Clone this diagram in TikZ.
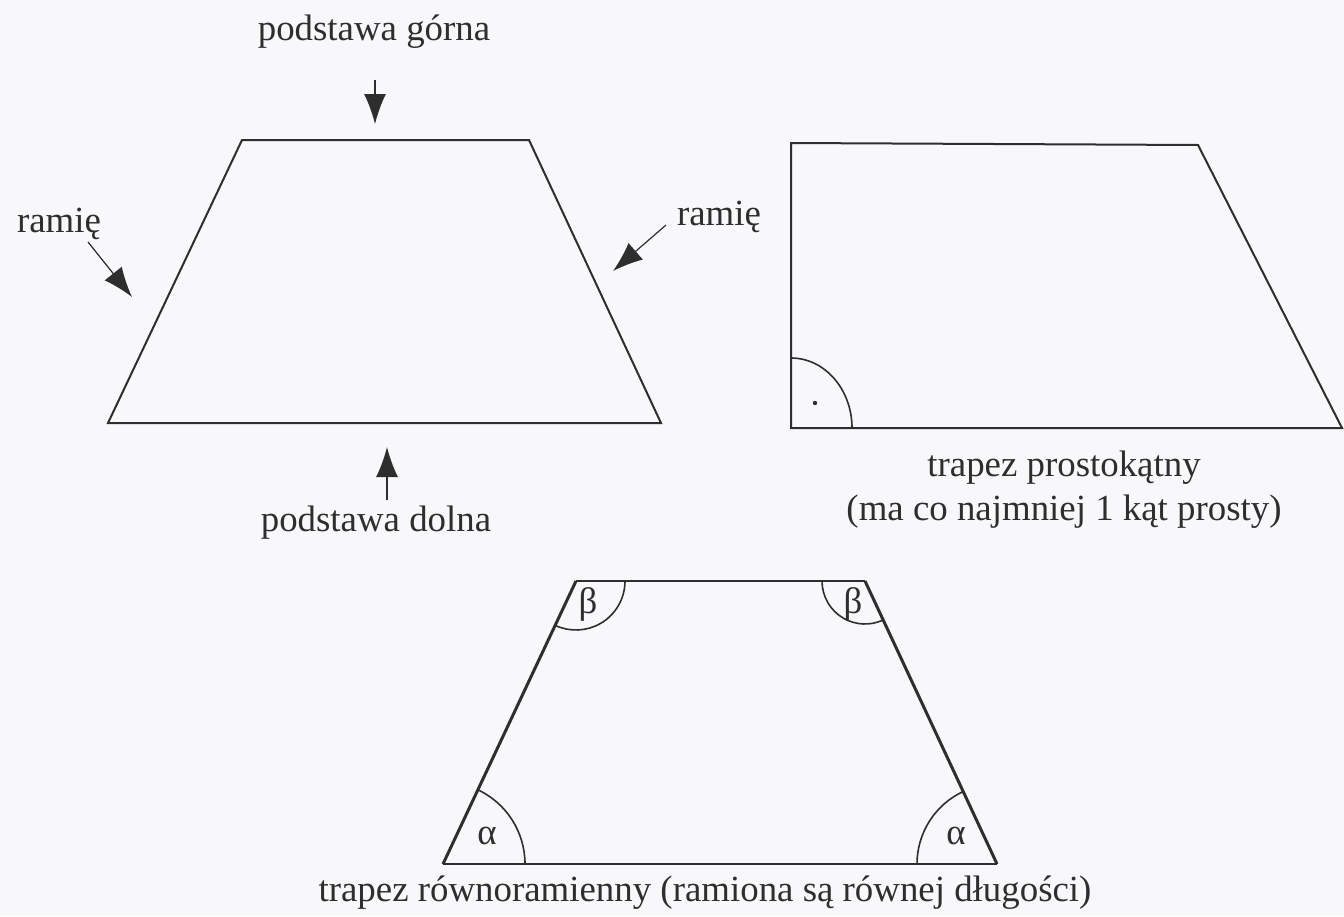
\documentclass[tikz,border=0pt]{standalone}
\usepackage{fontspec}
\setmainfont{Liberation Serif}
\usetikzlibrary{arrows.meta}
\definecolor{ink}{HTML}{2E2E2E}
\definecolor{bg}{HTML}{F8F8FA}
\begin{document}
\begin{tikzpicture}[x=1bp,y=-1bp,
  edge/.style={draw=ink,line width=2bp,line join=miter},
  thick edge/.style={draw=ink,line width=3bp},
  pointer/.style={draw=ink,line width=1.2bp,-{Latex[length=30bp,width=22bp]}},
  lab/.style={text=ink,font=\fontsize{37}{44}\selectfont,inner sep=0pt},
  arc line/.style={draw=ink,line width=1.6bp}]
\fill[bg] (0,0) rectangle (1344,916);
\useasboundingbox (0,0) rectangle (1344,916);
% trapezoid 1
\coordinate (a1) at (242,140);
\coordinate (b1) at (529,140);
\coordinate (c1) at (661,423);
\coordinate (d1) at (108,423);
\draw[edge] (a1) -- (b1) -- (c1) -- (d1) -- cycle;
\node[lab] (pg) at (374,32) {podstawa górna};
\coordinate (pgt) at (375,124);
\coordinate (pgs) at (375,80);
\draw[pointer] (pgs) -- (pgt);
\node[lab] (pd) at (376,523) {podstawa dolna};
\coordinate (pds) at (387,500);
\coordinate (pdt) at (387,447);
\draw[pointer] (pds) -- (pdt);
\node[lab] (rl) at (59,224) {ramię};
\coordinate (rls) at (88,242);
\coordinate (rlt) at (132,297);
\draw[pointer] (rls) -- (rlt);
\node[lab] (rr) at (719,217) {ramię};
\coordinate (rrs) at (666,225);
\coordinate (rrt) at (613,271);
\draw[pointer] (rrs) -- (rrt);
% trapezoid 2
\coordinate (a2) at (791,143);
\coordinate (b2) at (1198,145);
\coordinate (c2) at (1342,428);
\coordinate (d2) at (791,428);
\draw[edge] (a2) -- (b2) -- (c2) -- (d2) -- cycle;
\draw[arc line] (852,428) arc[start angle=0,end angle=90,x radius=61,y radius=-70];
\fill[ink] (815,403) circle (2.2bp);
\node[lab] (t2a) at (1064,468) {trapez prostokątny};
\node[lab] (t2b) at (1064,512) {(ma co najmniej 1 kąt prosty)};
% trapezoid 3
\coordinate (a3) at (576,581);
\coordinate (b3) at (865,581);
\coordinate (c3) at (997,864);
\coordinate (d3) at (443,864);
\draw[edge] (a3) -- (b3);
\draw[edge] (d3) -- (c3);
\draw[thick edge] (a3) -- (d3);
\draw[thick edge] (b3) -- (c3);
\draw[arc line] (525,864) arc[start angle=0,end angle=-65,radius=82];
\draw[arc line] (917,864) arc[start angle=180,end angle=245,radius=80];
\draw[arc line] (625,581) arc[start angle=0,end angle=115,radius=49];
\draw[arc line] (822,581) arc[start angle=180,end angle=65,radius=43];
\node[lab] (al1) at (487,836) {α};
\node[lab] (al2) at (956,836) {α};
\node[lab] (be1) at (588,604) {β};
\node[lab] (be2) at (853,604) {β};
\node[lab] (t3) at (705,893) {trapez równoramienny (ramiona są równej długości)};
\end{tikzpicture}
\end{document}
